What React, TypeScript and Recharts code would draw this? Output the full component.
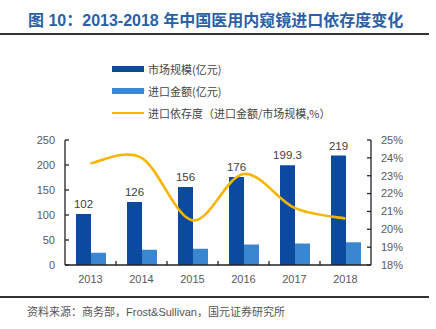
import React from "react";
import { ComposedChart, Bar, Line, XAxis, YAxis, LabelList } from "recharts";

const years = ["2013", "2014", "2015", "2016", "2017", "2018"];
const marketSize = [102, 126, 156, 176, 199.3, 219];
const importAmount = [24.5, 30.5, 32.5, 41, 43, 45.5];
const importDependence = [23.7, 24.0, 20.5, 23.1, 21.2, 20.6];
const leftTicks = [0, 50, 100, 150, 200, 250];
const rightTicks = [18, 19, 20, 21, 22, 23, 24, 25];

const data = years.map((y, i) => ({
  year: y,
  market: marketSize[i],
  imp: importAmount[i],
  dep: importDependence[i],
}));

const DARK = "#0B4A9E";
const LIGHT = "#3A87D0";
const GOLD = "#F7B500";
const AXIS = "#222";
const TEXT = "#595959";
const NUM_FONT = "'Liberation Sans', Arial, sans-serif";
const CJK_FONT = "'Liberation Sans', 'Noto Sans CJK SC', sans-serif";

// Excel-style smoothed line (Catmull-Rom as cubic Bezier, tension 1/6)
function smoothCurve(context: any) {
  let pts: number[][] = [];
  return {
    areaStart() {},
    areaEnd() {},
    lineStart() {
      pts = [];
    },
    point(x: number, y: number) {
      pts.push([+x, +y]);
    },
    lineEnd() {
      const n = pts.length;
      if (!n) return;
      context.moveTo(pts[0][0], pts[0][1]);
      for (let i = 0; i < n - 1; i++) {
        const p0 = pts[Math.max(i - 1, 0)];
        const p1 = pts[i];
        const p2 = pts[i + 1];
        const p3 = pts[Math.min(i + 2, n - 1)];
        context.bezierCurveTo(
          p1[0] + (p2[0] - p0[0]) / 6,
          p1[1] + (p2[1] - p0[1]) / 6,
          p2[0] - (p3[0] - p1[0]) / 6,
          p2[1] - (p3[1] - p1[1]) / 6,
          p2[0],
          p2[1]
        );
      }
    },
  };
}

const XTick = (props: any) => {
  const { x, y, payload, index } = props;
  const off = payload.offset || 0;
  return (
    <g>
      {index > 0 && (
        <line x1={x - off} x2={x - off} y1={y} y2={y - 4} stroke={AXIS} strokeWidth={1.3} />
      )}
      <text x={x} y={y + 18} textAnchor="middle" fill={TEXT} fontSize={11} fontFamily={NUM_FONT}>
        {payload.value}
      </text>
    </g>
  );
};

export default function App() {
  return (
    <div
      style={{
        position: "absolute",
        left: 0,
        top: 0,
        width: 436,
        height: 329,
        background: "#fff",
        overflow: "hidden",
      }}
    >
      <div
        style={{
          position: "absolute",
          left: 28,
          top: 11,
          fontSize: 16,
          fontWeight: "bold",
          color: "#2B5FA6",
          fontFamily: CJK_FONT,
          whiteSpace: "nowrap",
          lineHeight: "20px",
        }}
      >
        图 10：2013-2018 年中国医用内窥镜进口依存度变化
      </div>
      <div style={{ position: "absolute", left: 0, top: 33, width: 429, height: 2, background: "#333" }} />

      {[
        { label: "市场规模(亿元)", color: DARK, h: 6, cy: 69 },
        { label: "进口金额(亿元)", color: LIGHT, h: 6, cy: 91 },
        { label: "进口依存度（进口金额/市场规模,%）", color: GOLD, h: 2.5, cy: 113 },
      ].map((it) => (
        <div key={it.label}>
          <div
            style={{
              position: "absolute",
              left: 112,
              top: it.cy - it.h / 2,
              width: 32,
              height: it.h,
              background: it.color,
            }}
          />
          <div
            style={{
              position: "absolute",
              left: 148,
              top: it.cy - 8,
              height: 16,
              lineHeight: "16px",
              fontSize: 11,
              color: "#444",
              fontFamily: "'Noto Sans CJK SC', sans-serif",
              whiteSpace: "nowrap",
            }}
          >
            {it.label}
          </div>
        </div>
      ))}

      <div style={{ position: "absolute", left: 0, top: 0 }}>
        <ComposedChart
          width={436}
          height={329}
          data={data}
          margin={{ top: 140, right: 0, bottom: 34, left: 0 }}
          barGap={0}
        >
          <XAxis
            dataKey="year"
            stroke={AXIS}
            strokeWidth={1.3}
            tickLine={false}
            tickSize={0}
            tickMargin={0}
            height={30}
            tick={<XTick />}
            interval={0}
          />
          <YAxis
            yAxisId="left"
            orientation="left"
            width={65}
            domain={[0, 250]}
            ticks={leftTicks}
            interval={0}
            stroke={AXIS}
            strokeWidth={1.3}
            tickSize={-4}
            tickMargin={14}
            tick={{ fill: TEXT, fontSize: 11, fontFamily: NUM_FONT }}
          />
          <YAxis
            yAxisId="right"
            orientation="right"
            width={65}
            domain={[18, 25]}
            ticks={rightTicks}
            interval={0}
            stroke={AXIS}
            strokeWidth={1.3}
            tickSize={-4}
            tickMargin={14}
            tickFormatter={(v: number) => `${v}%`}
            tick={{ fill: TEXT, fontSize: 11, fontFamily: NUM_FONT }}
          />
          <Bar yAxisId="left" dataKey="market" fill={DARK} barSize={15} isAnimationActive={false}>
            <LabelList
              dataKey="market"
              position="top"
              offset={6}
              fill="#404040"
              fontSize={11.5}
              fontFamily={NUM_FONT}
            />
          </Bar>
          <Bar yAxisId="left" dataKey="imp" fill={LIGHT} barSize={15} isAnimationActive={false} />
          <Line
            yAxisId="right"
            type={smoothCurve as any}
            dataKey="dep"
            stroke={GOLD}
            strokeWidth={2.6}
            dot={false}
            activeDot={false}
            isAnimationActive={false}
          />
        </ComposedChart>
      </div>

      <div style={{ position: "absolute", left: 0, top: 296, width: 429, height: 2, background: "#333" }} />
      <div
        style={{
          position: "absolute",
          left: 27,
          top: 304,
          fontSize: 11,
          lineHeight: "16px",
          color: "#555",
          fontFamily: CJK_FONT,
          whiteSpace: "nowrap",
        }}
      >
        资料来源：商务部，Frost&amp;Sullivan，国元证券研究所
      </div>
    </div>
  );
}
